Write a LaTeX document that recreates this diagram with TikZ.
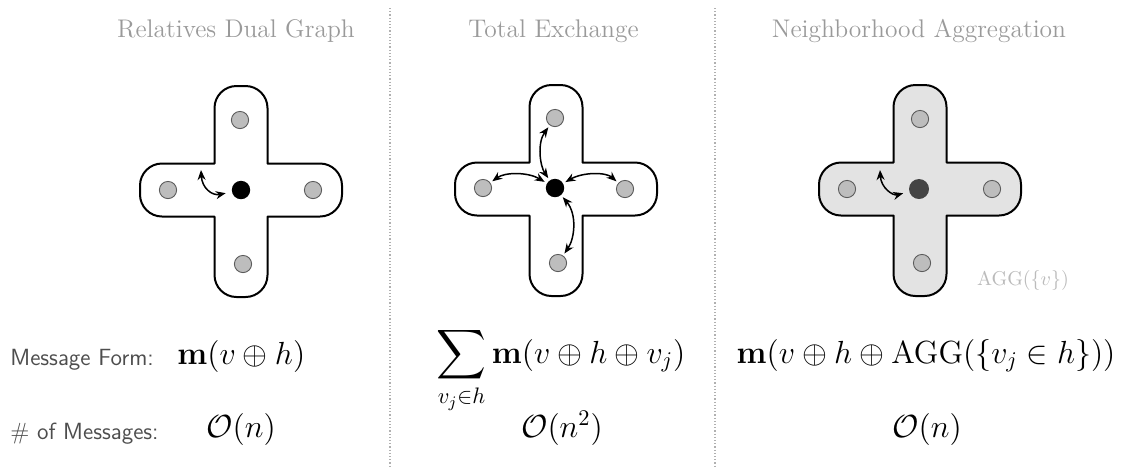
\RequirePackage{fix-cm}
\documentclass[tikz,border=0pt]{standalone}
\usepackage{amsmath}
\usetikzlibrary{arrows.meta}
\definecolor{titlegray}{HTML}{9A9A9A}
\definecolor{labgray}{HTML}{4D4D4D}
\definecolor{aggray}{HTML}{BBBBBB}
\definecolor{vtxfill}{HTML}{BDBDBD}
\definecolor{vtxline}{HTML}{5A5A5A}
\definecolor{sepgray}{HTML}{B0B0B0}
\definecolor{hfill}{HTML}{E3E3E3}
\definecolor{ctrdark}{HTML}{444444}
\newcommand{\plusshape}[3]{%
  \pgfmathsetmacro\xL{#1-26.5}\pgfmathsetmacro\xR{#1+26.5}%
  \pgfmathsetmacro\yU{#2-26.5}\pgfmathsetmacro\yD{#2+26.5}%
  \pgfmathsetmacro\yT{#2-104}\pgfmathsetmacro\yB{#2+107}%
  \pgfmathsetmacro\xW{#1-101}\pgfmathsetmacro\xE{#1+101}%
  \draw[crossline,fill=#3]
   (\xL,\yU) -- ({\xL},{\yT+22})
   .. controls ({\xL},{\yT+9.9}) and ({\xL+9.9},{\yT}) .. ({\xL+22},{\yT})
   -- ({\xR-22},{\yT})
   .. controls ({\xR-9.9},{\yT}) and ({\xR},{\yT+9.9}) .. ({\xR},{\yT+22})
   -- (\xR,\yU) -- ({\xE-22},{\yU})
   .. controls ({\xE-9.9},{\yU}) and ({\xE},{\yU+9.9}) .. ({\xE},{\yU+22})
   -- ({\xE},{\yD-22})
   .. controls ({\xE},{\yD-9.9}) and ({\xE-9.9},{\yD}) .. ({\xE-22},{\yD})
   -- (\xR,\yD) -- ({\xR},{\yB-22})
   .. controls ({\xR},{\yB-9.9}) and ({\xR-9.9},{\yB}) .. ({\xR-22},{\yB})
   -- ({\xL+22},{\yB})
   .. controls ({\xL+9.9},{\yB}) and ({\xL},{\yB-9.9}) .. ({\xL},{\yB-22})
   -- (\xL,\yD) -- ({\xW+22},{\yD})
   .. controls ({\xW+9.9},{\yD}) and ({\xW},{\yD-9.9}) .. ({\xW},{\yD-22})
   -- ({\xW},{\yU+22})
   .. controls ({\xW},{\yU+9.9}) and ({\xW+9.9},{\yU}) .. ({\xW+22},{\yU})
   -- cycle;}
\begin{document}
\begin{tikzpicture}[x=0.5pt,y=-0.5pt,
  crossline/.style={line width=1pt,draw=black,line join=round},
  vtx/.style={circle,draw=vtxline,fill=vtxfill,line width=0.45pt,minimum size=8.6pt,inner sep=0pt},
  ctr/.style={circle,fill=black,minimum size=9.2pt,inner sep=0pt},
  tip/.tip={Stealth[length=5pt,width=4pt]},
  arr/.style={tip-tip,line width=0.75pt,shorten <=1.2pt,shorten >=1.2pt},
  arrone/.style={tip-tip,line width=0.75pt,shorten >=3pt},
  title/.style={text=titlegray,font=\fontsize{12.75}{15}\selectfont,inner sep=0pt,anchor=base},
  lab/.style={text=labgray,font=\sffamily\fontsize{11.7}{14}\selectfont,inner sep=0pt,anchor=base west},
  mth/.style={font=\fontsize{16}{19}\selectfont,inner sep=0pt,anchor=base},
  sep/.style={draw=sepgray,densely dotted,line width=0.6pt}]
\useasboundingbox (0,0) rectangle (1129,468);

% titles
\node[title] (t1) at (236,37) {Relatives Dual Graph};
\node[title] (t2) at (553.5,37) {Total Exchange};
\node[title] (t3) at (919,37) {Neighborhood Aggregation};

% separators
\draw[sep] (390,8) -- (390,468);
\draw[sep] (715,8) -- (715,468);

% cross 1
\plusshape{241}{190}{white}
\node[vtx] (a1) at (240,120) {};
\node[vtx] (l1) at (168,190) {};
\node[vtx] (r1) at (313,190) {};
\node[vtx] (b1) at (243,264) {};
\node[ctr] (c1) at (241,190) {};
\coordinate (f1) at (201,170);
\draw[arrone] (f1) .. controls (202,188) and (212,196) .. (c1);

% cross 2
\plusshape{556}{189}{white}
\node[vtx] (a2) at (555,118) {};
\node[vtx] (l2) at (483,188) {};
\node[vtx] (r2) at (625,189) {};
\node[vtx] (b2) at (558,263) {};
\node[ctr] (c2) at (555,188) {};
\draw[arr] (a2) .. controls (537,143) and (540,166) .. (c2);
\draw[arr] (l2) .. controls (505,172) and (528,172) .. (c2);
\draw[arr] (c2) .. controls (583,172) and (606,172) .. (r2);
\draw[arr] (c2) .. controls (577,214) and (575,238) .. (b2);

% cross 3
\plusshape{920}{189}{hfill}
\node[vtx] (a3) at (920,119) {};
\node[vtx] (l3) at (847,189) {};
\node[vtx] (r3) at (992,189) {};
\node[vtx] (b3) at (922,263) {};
\node[ctr,fill=ctrdark,minimum size=10pt] (c3) at (919,189) {};
\coordinate (f3) at (880,170);
\draw[arrone] (f3) .. controls (881,188) and (893,196) .. (c3);
\node[text=aggray,font=\fontsize{10}{12}\selectfont,inner sep=0pt] (agg) at (1023,280) {$\mathrm{AGG}(\{v\})$};

% message rows
\node[lab] (mf) at (10,365) {Message Form:};
\node[mth,anchor=base west] (m1) at (177,364) {$\mathbf{m}(v\oplus h)$};
\node[mth] (m2) at (561,363) {$\displaystyle\sum_{v_j\in h}\mathbf{m}(v\oplus h\oplus v_j)$};
\node[mth] (m3) at (926,363) {$\mathbf{m}(v\oplus h\oplus \mathrm{AGG}(\{v_j\in h\}))$};

\node[lab] (nm) at (10,439) {\# of Messages:};
\node[mth] (o1) at (241,437) {$\mathcal{O}(n)$};
\node[mth] (o2) at (562,437) {$\mathcal{O}(n^2)$};
\node[mth] (o3) at (927,437) {$\mathcal{O}(n)$};
\end{tikzpicture}
\end{document}
